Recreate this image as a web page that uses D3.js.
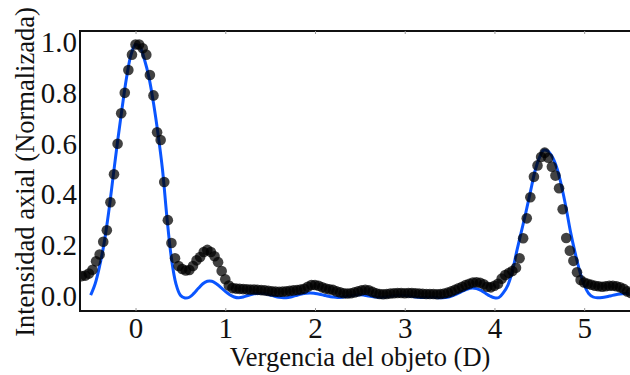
<!DOCTYPE html>
<html>
<head>
<meta charset="utf-8">
<script src="https://cdn.jsdelivr.net/npm/d3@7"></script>
<style>
  html, body { margin: 0; padding: 0; background: #fff; }
  svg { display: block; }
  svg text { font-family: "Liberation Serif", "Times New Roman", serif; fill: #111; }
  .tick text { font-size: 29px; }
</style>
</head>
<body>
<svg id="chart" width="630" height="375"></svg>
<script>
// Measured axial intensity (dots): [vergence (D), normalized intensity]
const measured = [
  [-0.60,0.080],[-0.56,0.082],[-0.52,0.090],[-0.48,0.105],[-0.44,0.138],[-0.40,0.165],[-0.36,0.215],[-0.32,0.260],
  [-0.28,0.370],[-0.24,0.480],[-0.20,0.600],[-0.16,0.720],[-0.12,0.800],[-0.08,0.890],[-0.04,0.950],[0.00,0.990],
  [0.04,0.990],[0.08,0.975],[0.12,0.950],[0.16,0.870],[0.20,0.790],[0.24,0.645],[0.28,0.615],[0.32,0.450],
  [0.36,0.300],[0.40,0.210],[0.44,0.150],[0.48,0.120],[0.52,0.108],[0.56,0.102],[0.60,0.104],[0.64,0.120],
  [0.68,0.142],[0.72,0.155],[0.76,0.175],[0.80,0.183],[0.84,0.175],[0.88,0.158],[0.92,0.135],[0.96,0.100],
  [1.00,0.068],[1.04,0.043],[1.08,0.033],[1.12,0.031],[1.16,0.030],[1.20,0.029],[1.24,0.028],[1.28,0.027],
  [1.32,0.027],[1.36,0.026],[1.40,0.025],[1.44,0.024],[1.48,0.022],[1.52,0.020],[1.56,0.019],[1.60,0.018],
  [1.64,0.019],[1.68,0.020],[1.72,0.022],[1.76,0.024],[1.80,0.025],[1.84,0.027],[1.88,0.030],[1.92,0.038],
  [1.96,0.045],[2.00,0.045],[2.04,0.042],[2.08,0.036],[2.12,0.031],[2.16,0.028],[2.20,0.026],[2.24,0.020],
  [2.28,0.016],[2.32,0.013],[2.36,0.012],[2.40,0.013],[2.44,0.016],[2.48,0.020],[2.52,0.024],[2.56,0.026],
  [2.60,0.024],[2.64,0.018],[2.68,0.013],[2.72,0.010],[2.76,0.009],[2.80,0.010],[2.84,0.012],[2.88,0.013],
  [2.92,0.014],[2.96,0.014],[3.00,0.013],[3.04,0.014],[3.08,0.014],[3.12,0.013],[3.16,0.012],[3.20,0.011],
  [3.24,0.010],[3.28,0.010],[3.32,0.010],[3.36,0.009],[3.40,0.010],[3.44,0.012],[3.48,0.015],[3.52,0.020],
  [3.56,0.026],[3.60,0.032],[3.64,0.038],[3.68,0.045],[3.72,0.050],[3.76,0.055],[3.80,0.056],[3.84,0.054],
  [3.88,0.048],[3.92,0.038],[3.96,0.036],[4.00,0.042],[4.04,0.050],[4.08,0.070],[4.12,0.084],[4.16,0.092],
  [4.20,0.100],[4.24,0.113],[4.28,0.150],[4.32,0.229],[4.36,0.307],[4.40,0.390],[4.44,0.470],[4.48,0.515],
  [4.52,0.548],[4.56,0.565],[4.60,0.545],[4.64,0.510],[4.68,0.475],[4.72,0.425],[4.76,0.343],[4.80,0.230],
  [4.84,0.180],[4.88,0.140],[4.92,0.095],[4.96,0.065],[5.00,0.055],[5.04,0.050],[5.08,0.046],[5.12,0.042],
  [5.16,0.040],[5.20,0.038],[5.24,0.040],[5.28,0.042],[5.32,0.042],[5.36,0.040],[5.40,0.036],[5.44,0.030],
  [5.48,0.020],[5.52,0.014]
];

// Simulated axial intensity (blue curve)
const model = [
  [-0.50,0.005],[-0.45,0.050],[-0.40,0.120],[-0.35,0.210],[-0.30,0.330],[-0.25,0.470],[-0.20,0.610],[-0.15,0.740],
  [-0.10,0.860],[-0.05,0.950],[0.00,0.990],[0.05,0.980],[0.10,0.930],[0.15,0.860],[0.20,0.760],[0.25,0.640],
  [0.30,0.500],[0.35,0.310],[0.40,0.150],[0.45,0.050],[0.50,0.005],[0.55,-0.006],[0.60,-0.003],[0.65,0.012],
  [0.70,0.032],[0.75,0.050],[0.80,0.060],[0.85,0.060],[0.90,0.050],[0.95,0.036],[1.00,0.020],[1.05,0.007],
  [1.10,-0.002],[1.15,-0.005],[1.20,-0.002],[1.25,0.004],[1.30,0.009],[1.35,0.012],[1.40,0.013],[1.45,0.011],
  [1.50,0.006],[1.55,0.001],[1.60,-0.003],[1.65,-0.005],[1.70,-0.004],[1.75,0.000],[1.80,0.005],[1.85,0.010],
  [1.90,0.013],[1.95,0.014],[2.00,0.012],[2.05,0.009],[2.10,0.005],[2.15,0.001],[2.20,-0.002],[2.25,-0.004],
  [2.30,-0.003],[2.35,0.000],[2.40,0.003],[2.45,0.006],[2.50,0.007],[2.55,0.005],[2.60,0.002],[2.65,-0.001],
  [2.70,-0.003],[2.75,-0.003],[2.80,-0.001],[2.85,0.002],[2.90,0.004],[2.95,0.005],[3.00,0.004],[3.05,0.002],
  [3.10,-0.001],[3.15,-0.003],[3.20,-0.004],[3.25,-0.003],[3.30,-0.002],[3.35,-0.004],[3.40,-0.005],[3.45,-0.004],
  [3.50,-0.001],[3.55,0.005],[3.60,0.013],[3.65,0.022],[3.70,0.029],[3.75,0.033],[3.80,0.031],[3.85,0.024],
  [3.90,0.013],[3.95,0.002],[4.00,-0.005],[4.05,-0.004],[4.10,0.015],[4.15,0.045],[4.20,0.100],[4.25,0.180],
  [4.30,0.255],[4.35,0.330],[4.40,0.410],[4.45,0.490],[4.50,0.545],[4.55,0.575],[4.60,0.570],[4.65,0.545],
  [4.70,0.500],[4.75,0.430],[4.80,0.345],[4.85,0.250],[4.90,0.170],[4.95,0.100],[5.00,0.045],[5.05,0.012],
  [5.10,-0.002],[5.15,-0.005],[5.20,-0.004],[5.25,-0.001],[5.30,0.003],[5.35,0.007],[5.40,0.010],[5.45,0.012],
  [5.50,0.013]
];

const xTicks = [0, 1, 2, 3, 4, 5];
const yTicks = [0.0, 0.2, 0.4, 0.6, 0.8, 1.0];
const xTitle = "Vergencia del objeto (D)";
const yTitle = "Intensidad axial (Normalizada)";

const svg = d3.select("#chart");
const plot = { left: 80, right: 632, top: 31, bottom: 311 };

const x = d3.scaleLinear().domain([-0.619, 5.533]).range([plot.left, plot.right]);
const y = d3.scaleLinear().domain([-0.057, 1.043]).range([plot.bottom, plot.top]);

svg.append("defs").append("clipPath").attr("id", "plot-clip")
  .append("rect")
  .attr("x", plot.left).attr("y", plot.top)
  .attr("width", plot.right - plot.left).attr("height", plot.bottom - plot.top);

const g = svg.append("g").attr("clip-path", "url(#plot-clip)");

// simulated curve
const line = d3.line()
  .x(d => x(d[0]))
  .y(d => y(d[1]))
  .curve(d3.curveCatmullRom.alpha(0.5));

g.append("path")
  .datum(model)
  .attr("fill", "none")
  .attr("stroke", "#0a55ff")
  .attr("stroke-width", 3)
  .attr("stroke-linejoin", "round")
  .attr("d", line);

// measured points
g.selectAll("circle")
  .data(measured)
  .join("circle")
  .attr("cx", d => x(d[0]))
  .attr("cy", d => y(d[1]))
  .attr("r", 5.3)
  .attr("fill", "#000")
  .attr("fill-opacity", 0.74);

// frame
const frame = svg.append("g");
frame.append("line").attr("x1", plot.left).attr("x2", plot.right)
  .attr("y1", plot.top).attr("y2", plot.top)
  .attr("stroke", "#111").attr("stroke-width", 2);
frame.append("line").attr("x1", plot.left).attr("x2", plot.right)
  .attr("y1", plot.bottom).attr("y2", plot.bottom)
  .attr("stroke", "#111").attr("stroke-width", 2);
frame.append("line").attr("x1", plot.left).attr("x2", plot.left)
  .attr("y1", plot.top - 1).attr("y2", plot.bottom + 1)
  .attr("stroke", "#111").attr("stroke-width", 2);

// bottom axis
const xAxis = d3.axisBottom(x).tickValues(xTicks).tickFormat(d3.format("d"))
  .tickSizeInner(-3).tickSizeOuter(0).tickPadding(6);
const gx = svg.append("g").attr("transform", `translate(0,${plot.bottom})`).call(xAxis);
gx.attr("font-family", null).attr("font-size", null);
gx.select(".domain").remove();
gx.selectAll(".tick line").attr("stroke", "#999").attr("stroke-width", 1);
gx.selectAll(".tick text").attr("fill", "#111").attr("dy", "0.71em");

// top ticks
const xTop = d3.axisTop(x).tickValues(xTicks).tickFormat("").tickSizeInner(-3).tickSizeOuter(0);
const gxt = svg.append("g").attr("transform", `translate(0,${plot.top})`).call(xTop);
gxt.select(".domain").remove();
gxt.selectAll(".tick line").attr("stroke", "#999").attr("stroke-width", 1);

// left axis
const yAxis = d3.axisLeft(y).tickValues(yTicks).tickFormat(d3.format(".1f"))
  .tickSizeInner(0).tickSizeOuter(0).tickPadding(3);
const gy = svg.append("g").attr("transform", `translate(${plot.left},0)`).call(yAxis);
gy.attr("font-family", null).attr("font-size", null);
gy.select(".domain").remove();
gy.selectAll(".tick text").attr("fill", "#111");

// axis titles
svg.append("text")
  .attr("x", 360).attr("y", 366)
  .attr("text-anchor", "middle")
  .attr("font-size", 26.5)
  .text(xTitle);

svg.append("text")
  .attr("transform", "translate(34,172) rotate(-90)")
  .attr("text-anchor", "middle")
  .attr("font-size", 26.5)
  .text(yTitle);
</script>
</body>
</html>
